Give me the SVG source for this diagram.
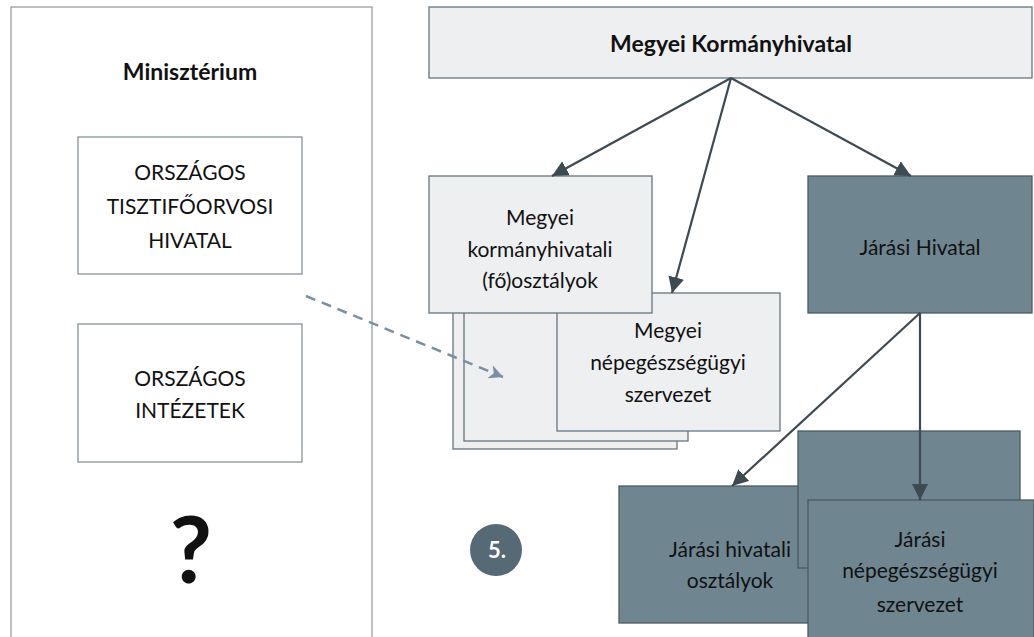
<svg xmlns="http://www.w3.org/2000/svg" width="1034" height="637" viewBox="0 0 1034 637">
<defs>
<style>
.t{font-family:Lato,"Liberation Sans",sans-serif;font-size:21px;fill:#111;text-anchor:middle}
.b{font-weight:bold}
.h{font-size:23px}
.q{font-size:92px}
.n{font-size:22px;fill:#fff}
.light{fill:#EEEFF1;stroke:#66757F;stroke-width:1.3}
.dark{fill:#6F8691;stroke:#4B5961;stroke-width:1.3}
.plain{fill:#fff;stroke:#7F8A91;stroke-width:1.2}
.con{stroke:#3E4A52;stroke-width:2.2;fill:none;marker-end:url(#ah)}
.dash{stroke:#7890A0;stroke-width:2.5;fill:none;stroke-dasharray:10,7;marker-end:url(#dh)}
</style>
<marker id="ah" markerUnits="userSpaceOnUse" markerWidth="18" markerHeight="18" refX="16" refY="8" orient="auto">
<path d="M0,0 L16,8 L0,16 z" fill="#3E4A52"/>
</marker>
<marker id="dh" markerUnits="userSpaceOnUse" markerWidth="16" markerHeight="16" refX="14" refY="7" orient="auto">
<path d="M0,0 L14,7 L0,14 L4,7 z" fill="#7890A0"/>
</marker>
</defs>
<rect width="1034" height="637" fill="#fff"/>

<g id="ministerium">
<rect x="11" y="7" width="361" height="640" fill="#fff" stroke="#8C969C" stroke-width="1.2"/>
<text class="t b h" x="190" y="80">Minisztérium</text>
</g>
<g id="tisztifoorvosi">
<rect class="plain" x="78" y="137" width="224" height="137"/>
<text class="t" x="190" y="180">ORSZÁGOS</text>
<text class="t" x="190" y="214">TISZTIFŐORVOSI</text>
<text class="t" x="190" y="248">HIVATAL</text>
</g>
<g id="intezetek">
<rect class="plain" x="78" y="324" width="224" height="138"/>
<text class="t" x="190" y="386">ORSZÁGOS</text>
<text class="t" x="190" y="418">INTÉZETEK</text>
</g>
<g id="kerdojel">
<text class="t b q" x="191" y="583">?</text>
</g>

<g id="megyei-kormanyhivatal">
<rect class="light" x="429" y="7" width="603" height="71"/>
<text class="t b h" x="731" y="52">Megyei Kormányhivatal</text>
</g>

<g id="megyei-nepegeszsegugyi">
<rect class="light" x="453" y="312" width="224" height="137"/>
<rect class="light" x="464" y="304" width="224" height="137"/>
<rect class="light" x="557" y="293" width="223" height="138"/>
<text class="t" x="668" y="338">Megyei</text>
<text class="t" x="668" y="370">népegészségügyi</text>
<text class="t" x="668" y="402">szervezet</text>
</g>
<g id="megyei-osztalyok">
<rect class="light" x="429" y="176" width="223" height="137"/>
<text class="t" x="540" y="225">Megyei</text>
<text class="t" x="540" y="257">kormányhivatali</text>
<text class="t" x="540" y="288">(fő)osztályok</text>
</g>

<g id="jarasi-hivatal">
<rect class="dark" x="808" y="176" width="224" height="137"/>
<text class="t" x="920" y="255">Járási Hivatal</text>
</g>

<g id="jarasi-osztalyok">
<rect class="dark" x="619" y="486" width="223" height="137"/>
<text class="t" x="730" y="557">Járási hivatali</text>
<text class="t" x="730" y="588">osztályok</text>
</g>
<g id="jarasi-nepegeszsegugyi">
<rect class="dark" x="798" y="431" width="222" height="137"/>
<rect class="dark" x="808" y="500" width="226" height="140"/>
<text class="t" x="920" y="547">Járási</text>
<text class="t" x="920" y="578">népegészségügyi</text>
<text class="t" x="920" y="612">szervezet</text>
</g>

<g id="badge">
<circle cx="496" cy="550" r="26" fill="#566A76"/>
<text class="t b n" x="497" y="558">5.</text>
</g>

<g id="connectors">
<line class="con" x1="731" y1="78" x2="552" y2="176"/>
<line class="con" x1="731" y1="78" x2="672" y2="293"/>
<line class="con" x1="731" y1="78" x2="911" y2="176"/>
<line class="con" x1="920" y1="313" x2="732" y2="486"/>
<line class="con" x1="920" y1="313" x2="920" y2="500"/>
<line class="dash" x1="306" y1="296" x2="503" y2="377"/>
</g>
</svg>
